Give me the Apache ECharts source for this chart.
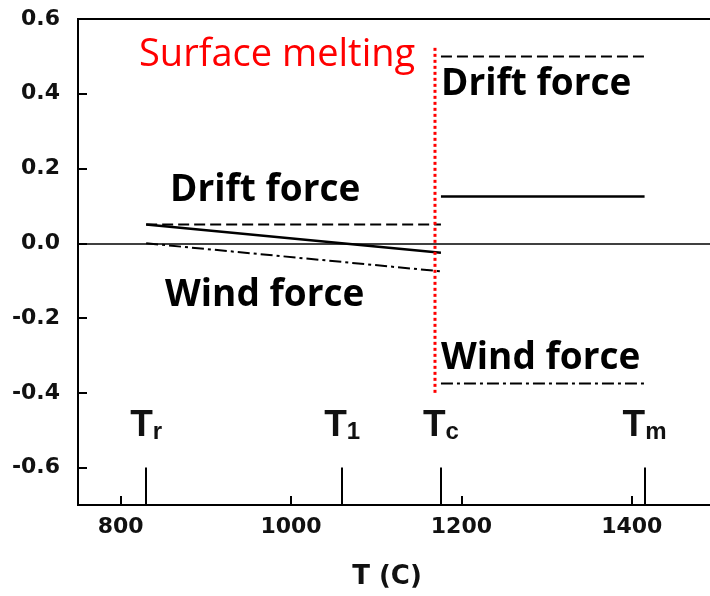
<!DOCTYPE html>
<html>
<head>
<meta charset="utf-8">
<script src="https://cdn.jsdelivr.net/npm/echarts@6/dist/echarts.min.js"></script>
<style>
  html, body { margin: 0; padding: 0; background: #fff; }
  #chart { width: 710px; height: 596px; }
</style>
</head>
<body>
<div id="chart"></div>
<script>
// Axis ticks
const xTicks = [800, 1000, 1200, 1400];
const yTicks = [-0.6, -0.4, -0.2, 0.0, 0.2, 0.4, 0.6];

// Characteristic temperatures (C) and their subscripts
const markTemps = [830, 1060, 1176, 1415];
const markSubs = ['r', '1', 'c', 'm'];

// Below surface melting: T_r -> T_c
const lowT = [830, 1176];
const driftLow = [0.05, 0.05];
const netLow = [0.05, -0.025];
const windLow = [0.0, -0.075];

// Above surface melting: T_c -> T_m
const highT = [1176, 1415];
const driftHigh = [0.5, 0.5];
const netHigh = [0.125, 0.125];
const windHigh = [-0.375, -0.375];

// Surface melting onset
const meltT = 1169;
const meltRange = [-0.40, 0.53];

const pairs = (xs, ys) => xs.map((x, i) => [x, ys[i]]);

const chart = echarts.init(document.getElementById('chart'), null, { renderer: 'canvas' });

const axisFont = { fontFamily: 'DejaVu Sans', fontWeight: 'bold', fontSize: 22, color: '#111' };
const noteFont = { fontFamily: 'Open Sans', fontWeight: 'bold', fontSize: 37, fill: '#000' };

function lineSeries(name, data, type, width, color) {
  return {
    name, type: 'line', data, symbol: 'none', silent: true,
    lineStyle: { color: color || '#000', width, type }
  };
}

chart.setOption({
  animation: false,
  backgroundColor: '#fff',
  grid: {
    left: 78, top: 19, bottom: 91, right: -7,
    outerBoundsMode: 'none',
    show: true, borderColor: '#000', borderWidth: 2, backgroundColor: 'transparent'
  },
  xAxis: {
    type: 'value', min: 750, max: 1500,
    axisLine: { onZero: false, lineStyle: { color: '#000', width: 2 } },
    axisTick: { inside: true, length: 9, customValues: xTicks, lineStyle: { color: '#000', width: 2 } },
    axisLabel: Object.assign({ customValues: xTicks, margin: 11, formatter: v => String(v) }, axisFont),
    splitLine: { show: false }
  },
  yAxis: {
    type: 'value', min: -0.7, max: 0.6,
    axisLine: { onZero: false, lineStyle: { color: '#000', width: 2 } },
    axisTick: { inside: true, length: 9, customValues: yTicks, lineStyle: { color: '#000', width: 2 } },
    axisLabel: Object.assign({ customValues: yTicks, margin: 18, formatter: v => v.toFixed(1) }, axisFont),
    splitLine: { show: false }
  },
  series: [
    {
      type: 'line', data: [], silent: true,
      markLine: {
        symbol: 'none', silent: true, animation: false,
        lineStyle: { color: '#000', width: 1.5, type: 'solid' },
        label: { show: false },
        data: [{ yAxis: 0 }]
      }
    },
    {
      type: 'line', data: [], silent: true,
      markLine: {
        symbol: 'none', silent: true, animation: false,
        lineStyle: { color: '#000', width: 2, type: 'solid' },
        label: {
          show: true, position: 'end', distance: 10,
          formatter: p => '{t|T}{s|' + p.data.sub + '}',
          rich: {
            t: { fontFamily: 'Liberation Sans', fontWeight: 'bold', fontSize: 37, color: '#111', padding: [0, 0, 13, 0] },
            s: { fontFamily: 'Liberation Sans', fontWeight: 'bold', fontSize: 24, color: '#111' }
          }
        },
        data: markTemps.map((t, i) => [
          { coord: [t, -0.7], sub: markSubs[i] },
          { coord: [t, -0.6] }
        ])
      }
    },
    lineSeries('drift-low', pairs(lowT, driftLow), [11, 5], 2),
    lineSeries('net-low', pairs(lowT, netLow), 'solid', 2.5),
    lineSeries('wind-low', pairs(lowT, windLow), [12, 4, 3, 4], 2),
    lineSeries('drift-high', pairs(highT, driftHigh), [11, 5], 2),
    lineSeries('net-high', pairs(highT, netHigh), 'solid', 2.5),
    lineSeries('wind-high', pairs(highT, windHigh), [12, 4, 3, 4], 2),
    lineSeries('melt', meltRange.map(v => [meltT, v]), [3, 3], 3, '#ff0000')
  ],
  graphic: [
    { type: 'text', left: 139, top: 36, style: { text: 'Surface melting', fontFamily: 'Open Sans', fontSize: 38, fill: '#ff0000' } },
    { type: 'text', left: 170, top: 172, style: Object.assign({ text: 'Drift force' }, noteFont) },
    { type: 'text', left: 165, top: 277, style: Object.assign({ text: 'Wind force' }, noteFont) },
    { type: 'text', left: 441, top: 66, style: Object.assign({ text: 'Drift force' }, noteFont) },
    { type: 'text', left: 441, top: 340, style: Object.assign({ text: 'Wind force' }, noteFont) },
    { type: 'text', x: 387, y: 577, style: { text: 'T (C)', fontFamily: 'DejaVu Sans', fontWeight: 'bold', fontSize: 26, fill: '#111', align: 'center', verticalAlign: 'middle' } }
  ]
});
</script>
</body>
</html>
